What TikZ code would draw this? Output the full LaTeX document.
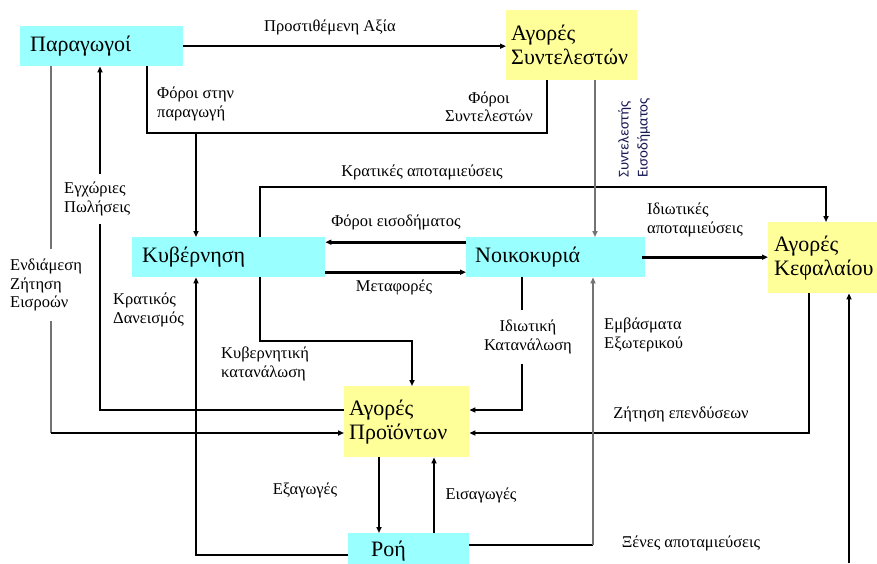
\documentclass[tikz,border=0pt]{standalone}
\usepackage{fontspec}
\setmainfont{Liberation Serif}
\newfontfamily\labsans{Carlito}
\usetikzlibrary{arrows.meta}
\definecolor{boxcyan}{RGB}{153,255,255}
\definecolor{boxyellow}{RGB}{255,255,153}
\definecolor{rotblue}{RGB}{25,25,85}
\begin{document}
\begin{tikzpicture}[x=1pt,y=-1pt,
  boxbase/.style={anchor=north west,inner ysep=0pt,align=left,font=\fontsize{22}{24}\selectfont},
  cbox/.style={boxbase,fill=boxcyan},
  ybox/.style={boxbase,fill=boxyellow},
  lab/.style={font=\fontsize{16.5}{18.5}\selectfont,inner sep=1pt},
  wlab/.style={lab,fill=white},
  tip/.style={-{Triangle[length=6pt,width=5pt]}},
  conn/.style={line width=1.5pt,black},
  thk/.style={line width=2.6pt,black},
  mid/.style={line width=2pt,black},
  gry/.style={line width=1.5pt,black!55},
]
\fill[white] (0,0) rectangle (877,563);
\clip (0,0) rectangle (877,563);

% boxes
\node[cbox,inner xsep=10pt,text width=143pt,minimum height=40pt] (prod) at (20,26) {Παραγωγοί};
\node[ybox,inner xsep=5pt,text width=121pt,minimum height=70pt] (afm) at (506,10) {Αγορές\\Συντελεστών};
\node[cbox,inner xsep=10pt,text width=173pt,minimum height=40pt] (gov) at (132,237) {Κυβέρνηση};
\node[cbox,inner xsep=9pt,text width=161pt,minimum height=40pt] (hh) at (466,237) {Νοικοκυριά};
\node[ybox,inner xsep=6pt,text width=97pt,minimum height=71pt] (cap) at (768,222) {Αγορές\\Κεφαλαίου};
\node[ybox,inner xsep=5pt,text width=115pt,minimum height=71pt] (pm) at (344,386) {Αγορές\\Προϊόντων};
\node[cbox,inner xsep=23pt,text width=75pt,minimum height=36pt] (flow) at (348,533) {Ροή};

% bend coordinates
\coordinate (tA) at (147,133);
\coordinate (tB) at (547,133);
\coordinate (tC) at (196,133);
\coordinate (eA) at (100,410);
\coordinate (dA) at (51,433);
\coordinate (kA) at (196,555);
\coordinate (gA) at (260,341);
\coordinate (gB) at (412,341);
\coordinate (sA) at (260,187);
\coordinate (sB) at (826,187);
\coordinate (yA) at (595,150);
\coordinate (iA) at (522,410);
\coordinate (zA) at (809,433);
\coordinate (xA) at (379,495);
\coordinate (xB) at (434,495);
\coordinate (mA) at (593,545);
\coordinate (nA) at (849,563);

% connectors
\draw[conn,tip] (prod.east) -- (afm.west |- prod.east);
\draw[mid] (prod.south -| tA) -- (tA) -- (tB);
\draw[thk] (afm.south -| tB) -- ([yshift=-1.3pt]tB);
\draw[conn,tip] (tC) -- (gov.north -| tC);
\draw[thk,tip] (pm.west |- eA) -- (eA) -- (prod.south -| eA);
\draw[gry] (prod.south -| dA) -- (dA);
\draw[mid,tip] (dA) -- (pm.west |- dA);
\draw[mid,tip] (flow.west |- kA) -- (kA) -- (gov.south -| kA);
\draw[thk,tip] (gov.south -| gA) -- (gA) -- (gB) -- (pm.north -| gB);
\draw[mid,tip] (gov.north -| sA) -- (sA) -- (sB) -- (cap.north -| sB);
\draw[thk,tip] ([yshift=15pt]hh.west) -- ([yshift=15pt]gov.east);
\draw[thk,tip] ([yshift=-15pt]gov.east) -- ([yshift=-15pt]hh.west);
\draw[thk,tip] ([xshift=-3pt]hh.east) -- (cap.west |- hh.east);
\draw[gry,tip] (afm.south -| yA) -- (hh.north -| yA);
\draw[mid,tip] (hh.south -| iA) -- (iA) -- (pm.east |- iA);
\draw[mid,tip] (cap.south -| zA) -- (zA) -- (pm.east |- zA);
\draw[thk,tip] (pm.south -| xA) -- (flow.north -| xA);
\draw[thk,tip] (flow.north -| xB) -- (pm.south -| xB);
\draw[thk] (flow.east |- mA) -- (mA);
\draw[gry,tip] (mA) -- (hh.south -| mA);
\draw[conn,tip] (nA) -- (cap.south -| nA);

% labels
\node[lab] (lva) at (330,27) {Προστιθέμενη Αξία};
\node[lab,anchor=west,align=left] (lfp) at (156,104) {Φόροι στην\\παραγωγή};
\node[lab,align=center] (lfs) at (489,107) {Φόροι\\Συντελεστών};
\node[lab,rotate=90,align=left,text=rotblue,font=\labsans\fontsize{15}{19}\selectfont] (lsy) at (634,138) {Συντελεστής\\Εισοδήματος};
\node[lab] (lks) at (422,172) {Κρατικές αποταμιεύσεις};
\node[wlab,anchor=west,align=left,inner ysep=8pt] (lep) at (63,199) {Εγχώριες\\Πωλήσεις};
\node[wlab,anchor=west,align=left,inner ysep=10pt] (len) at (9,285) {Ενδιάμεση\\Ζήτηση\\Εισροών};
\node[lab] (lfe) at (396,222) {Φόροι εισοδήματος};
\node[lab] (lme) at (394,287) {Μεταφορές};
\node[lab,anchor=west,align=left] (lia) at (646,220) {Ιδιωτικές\\αποταμιεύσεις};
\node[lab,anchor=west,align=left] (lkd) at (112,310) {Κρατικός\\Δανεισμός};
\node[lab,anchor=west,align=left] (lkk) at (220,364) {Κυβερνητική\\κατανάλωση};
\node[wlab,align=center,inner ysep=10pt] (lik) at (528,337) {Ιδιωτική\\Κατανάλωση};
\node[lab,anchor=west,align=left] (lem) at (603,335) {Εμβάσματα\\Εξωτερικού};
\node[lab] (lze) at (681,414) {Ζήτηση επενδύσεων};
\node[lab] (lex) at (305,490) {Εξαγωγές};
\node[lab] (lei) at (481,495) {Εισαγωγές};
\node[lab] (lxa) at (691,543) {Ξένες αποταμιεύσεις};
\end{tikzpicture}
\end{document}
